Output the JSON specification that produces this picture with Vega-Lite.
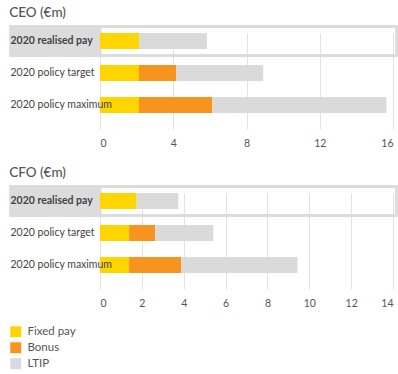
{
  "$schema": "https://vega.github.io/schema/vega-lite/v6.json",
  "background": "white",
  "padding": {"left": 9, "top": 5, "right": 0, "bottom": 0},
  "config": {
    "font": "Lato",
    "view": {"stroke": null},
    "title": {"anchor": "start", "fontSize": 13.5, "fontWeight": 500, "color": "#555555", "offset": 6, "font": "Lato"},
    "axis": {"labelFont": "Lato", "domain": false, "ticks": false, "gridColor": "#e2e2e2", "gridWidth": 1},
    "legend": {"labelFont": "Lato"}
  },
  "datasets": {
    "ceo": [
      {"row": "2020 realised pay", "component": "Fixed pay", "k": 1, "value": 2.13},
      {"row": "2020 realised pay", "component": "LTIP", "k": 3, "value": 3.71},
      {"row": "2020 policy target", "component": "Fixed pay", "k": 1, "value": 2.13},
      {"row": "2020 policy target", "component": "Bonus", "k": 2, "value": 2.02},
      {"row": "2020 policy target", "component": "LTIP", "k": 3, "value": 4.76},
      {"row": "2020 policy maximum", "component": "Fixed pay", "k": 1, "value": 2.13},
      {"row": "2020 policy maximum", "component": "Bonus", "k": 2, "value": 4.0},
      {"row": "2020 policy maximum", "component": "LTIP", "k": 3, "value": 9.51}
    ],
    "cfo": [
      {"row": "2020 realised pay", "component": "Fixed pay", "k": 1, "value": 1.75},
      {"row": "2020 realised pay", "component": "LTIP", "k": 3, "value": 1.99},
      {"row": "2020 policy target", "component": "Fixed pay", "k": 1, "value": 1.39},
      {"row": "2020 policy target", "component": "Bonus", "k": 2, "value": 1.24},
      {"row": "2020 policy target", "component": "LTIP", "k": 3, "value": 2.78},
      {"row": "2020 policy maximum", "component": "Fixed pay", "k": 1, "value": 1.39},
      {"row": "2020 policy maximum", "component": "Bonus", "k": 2, "value": 2.48},
      {"row": "2020 policy maximum", "component": "LTIP", "k": 3, "value": 5.57}
    ]
  },
  "spacing": 16,
  "resolve": {"legend": {"color": "independent"}},
  "vconcat": [
    {
      "title": "CEO (€m)",
      "width": 293,
      "height": 96,
      "layer": [
        {
          "data": {"values": [{}]},
          "mark": {"type": "bar", "color": "#dcdcdc", "height": {"band": 2}},
          "encoding": {
            "y": {"datum": "2020 realised pay", "type": "nominal"},
            "x": {"datum": -4.96, "type": "quantitative", "scale": {"domain": [0, 16], "nice": false}},
            "x2": {"datum": 0}
          }
        },
        {
          "data": {"values": [{}]},
          "mark": {"type": "bar", "fill": "white", "fillOpacity": 0, "stroke": "#dcdcdc", "strokeWidth": 3, "height": {"band": 1.8}},
          "encoding": {
            "y": {"datum": "2020 realised pay", "type": "nominal"},
            "x": {"datum": 0, "type": "quantitative", "scale": {"domain": [0, 16], "nice": false}},
            "x2": {"datum": 16.2}
          }
        },
        {
          "data": {"name": "ceo"},
          "mark": {"type": "bar"},
          "encoding": {
            "y": {
              "field": "row", "type": "nominal",
              "scale": {"domain": ["2020 realised pay", "2020 policy target", "2020 policy maximum"], "paddingInner": 0.5, "paddingOuter": 0.25, "align": 0},
              "axis": {"title": null, "labelAlign": "left", "labelPadding": 90, "labelFontSize": 10.5, "labelColor": "#444444", "zindex": 1,
                "labelFontWeight": {"condition": {"test": "datum.value === '2020 realised pay'", "value": "bold"}, "value": "normal"}}
            },
            "x": {
              "field": "value", "type": "quantitative", "stack": "zero",
              "scale": {"domain": [0, 16], "nice": false},
              "axis": {"title": null, "values": [0, 4, 8, 12, 16], "grid": true, "labelPadding": 9, "labelFontSize": 10.5, "labelColor": "#555555", "zindex": 0}
            },
            "color": {
              "field": "component", "type": "nominal",
              "scale": {"domain": ["Fixed pay", "Bonus", "LTIP"], "range": ["#FFD500", "#F7941D", "#DADADA"]},
              "legend": null
            },
            "order": {"field": "k", "type": "quantitative"}
          }
        }
      ]
    },
    {
      "title": "CFO (€m)",
      "width": 293,
      "height": 96,
      "layer": [
        {
          "data": {"values": [{}]},
          "mark": {"type": "bar", "color": "#dcdcdc", "height": {"band": 2}},
          "encoding": {
            "y": {"datum": "2020 realised pay", "type": "nominal"},
            "x": {"datum": -4.34, "type": "quantitative", "scale": {"domain": [0, 14], "nice": false}},
            "x2": {"datum": 0}
          }
        },
        {
          "data": {"values": [{}]},
          "mark": {"type": "bar", "fill": "white", "fillOpacity": 0, "stroke": "#dcdcdc", "strokeWidth": 3, "height": {"band": 1.8}},
          "encoding": {
            "y": {"datum": "2020 realised pay", "type": "nominal"},
            "x": {"datum": 0, "type": "quantitative", "scale": {"domain": [0, 14], "nice": false}},
            "x2": {"datum": 14.16}
          }
        },
        {
          "data": {"name": "cfo"},
          "mark": {"type": "bar"},
          "encoding": {
            "y": {
              "field": "row", "type": "nominal",
              "scale": {"domain": ["2020 realised pay", "2020 policy target", "2020 policy maximum"], "paddingInner": 0.5, "paddingOuter": 0.25, "align": 0},
              "axis": {"title": null, "labelAlign": "left", "labelPadding": 90, "labelFontSize": 10.5, "labelColor": "#444444", "zindex": 1,
                "labelFontWeight": {"condition": {"test": "datum.value === '2020 realised pay'", "value": "bold"}, "value": "normal"}}
            },
            "x": {
              "field": "value", "type": "quantitative", "stack": "zero",
              "scale": {"domain": [0, 14], "nice": false},
              "axis": {"title": null, "values": [0, 2, 4, 6, 8, 10, 12, 14], "grid": true, "labelPadding": 9, "labelFontSize": 10.5, "labelColor": "#555555", "zindex": 0}
            },
            "color": {
              "field": "component", "type": "nominal",
              "scale": {"domain": ["Fixed pay", "Bonus", "LTIP"], "range": ["#FFD500", "#F7941D", "#DADADA"]},
              "legend": {
                "orient": "none", "legendX": -90, "legendY": 133, "direction": "vertical", "title": null,
                "symbolType": "square", "symbolSize": 120, "symbolStrokeWidth": 0,
                "labelFontSize": 11.5, "labelColor": "#555555", "labelOffset": 6, "rowPadding": 3
              }
            },
            "order": {"field": "k", "type": "quantitative"}
          }
        }
      ]
    }
  ]
}
